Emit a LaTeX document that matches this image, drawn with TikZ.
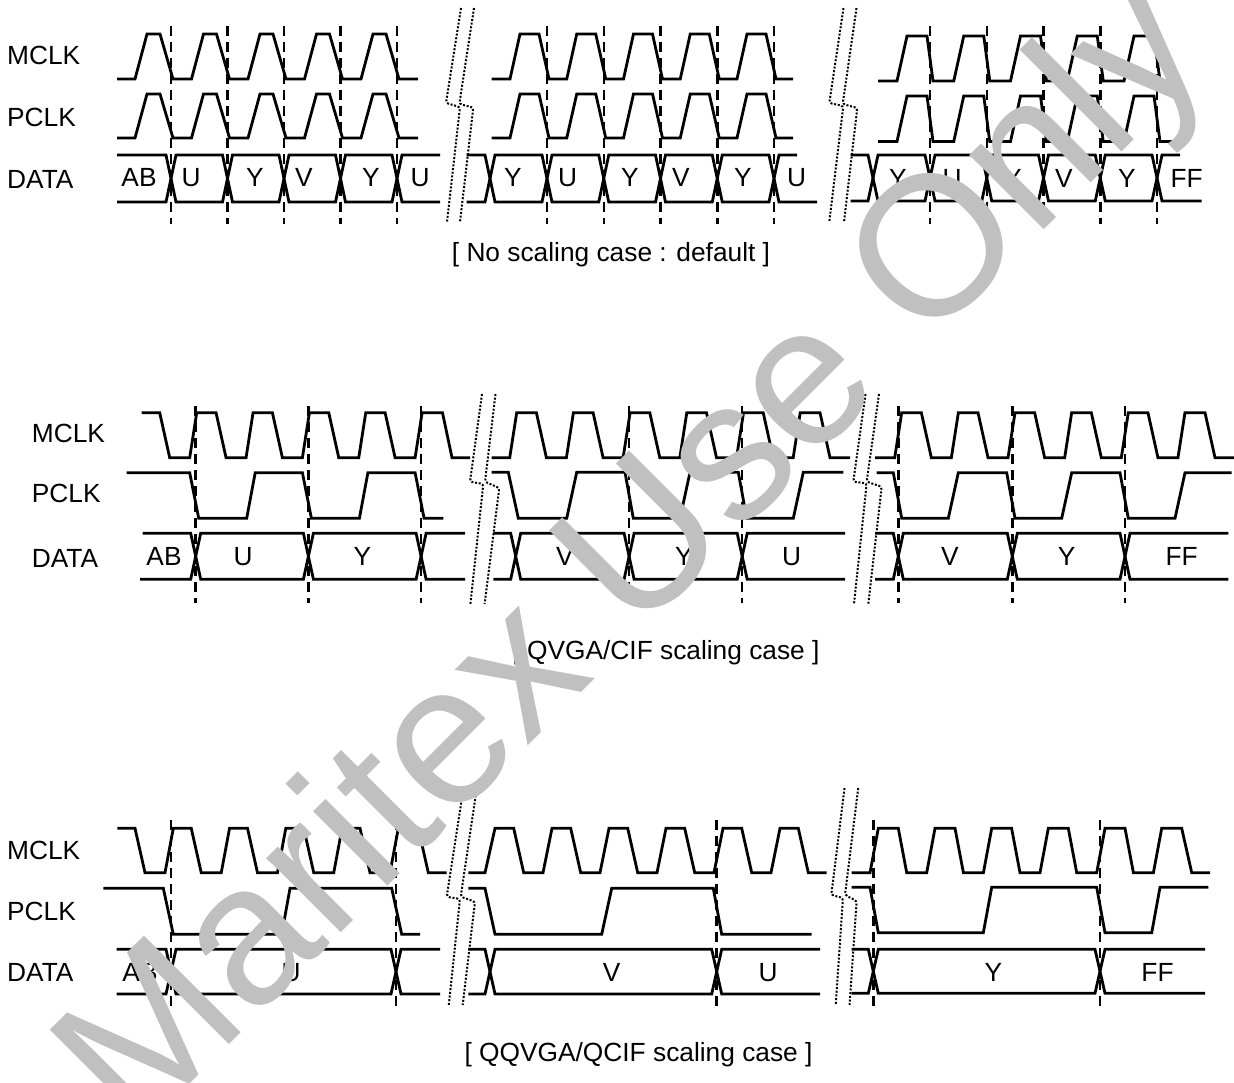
\documentclass[tikz,border=0pt]{standalone}
\usepackage{fontspec}
\setmainfont{Liberation Sans}
\newcommand\fsz{\fontsize{26.3}{30}\selectfont}
\newcommand\wmsz{\fontsize{199}{200}\selectfont}
\definecolor{wmgray}{RGB}{192,192,192}
\tikzset{
 sig/.style={line width=2.8pt},
 dsh/.style={line width=2.5pt, dash pattern=on 10pt off 6pt},
 brk/.style={line width=2pt, dash pattern=on 2pt off 1.7pt, rounded corners=2.5pt},
 lbl/.style={anchor=base west, inner sep=0pt, font=\fsz},
 val/.style={anchor=base, inner sep=0pt, font=\fsz},
 captxt/.style={anchor=base, inner sep=0pt, font=\fsz},
 wm/.style={anchor=base west, inner sep=0pt, font=\wmsz, text=wmgray, rotate=45}
}
% bus: topstart, topend, botstart, botend, T, B, transitions
\newcommand\dbus[7]{%
 \pgfmathsetmacro\busmid{(#5+#6)/2}%
 \draw[sig] (#1,#5) \foreach \tx in {#7} { -- (\tx-5,#5) -- (\tx,\busmid) -- (\tx+5,#5) } -- (#2,#5);
 \draw[sig] (#3,#6) \foreach \tx in {#7} { -- (\tx-5,#6) -- (\tx,\busmid) -- (\tx+5,#6) } -- (#4,#6);
}
\begin{document}
\begin{tikzpicture}[x=1pt,y=-1pt]
\useasboundingbox (0,0) rectangle (1234,1082);
\fill[white] (0,0) rectangle (1234,1082);

% ================= Section 1 =================
\node[lbl] (s1m) at (7,64) {MCLK};
\node[lbl] (s1p) at (7,126) {PCLK};
\node[lbl] (s1d) at (7,188.5) {DATA};

% MCLK
\draw[sig] (117,79) \foreach \dd in {171,227.5,284,340.5,397} { -- (\dd-36,79) -- (\dd-24,34) -- (\dd-11,34) -- (\dd+2,79) } -- (418,79);
\draw[sig] (491.7,79) \foreach \dd in {547,603.75,660.5,717.25,774} { -- (\dd-37,79) -- (\dd-27,34) -- (\dd-8,34) -- (\dd+2,79) } -- (793,79);
\draw[sig] (878,81) \foreach \dd in {930,986.75,1043.5,1100.25,1157} { -- (\dd-33,81) -- (\dd-23,36) -- (\dd-3,36) -- (\dd+3,81) } -- (1178,81);
% PCLK
\draw[sig] (117,138) \foreach \dd in {171,227.5,284,340.5,397} { -- (\dd-36,138) -- (\dd-24,94) -- (\dd-11,94) -- (\dd+2,138) } -- (418,138);
\draw[sig] (491.7,138) \foreach \dd in {547,603.75,660.5,717.25,774} { -- (\dd-37,138) -- (\dd-27,94) -- (\dd-8,94) -- (\dd+2,138) } -- (793,138);
\draw[sig] (878,141.5) \foreach \dd in {930,986.75,1043.5,1100.25,1157} { -- (\dd-33,141.5) -- (\dd-23,96) -- (\dd-3,96) -- (\dd+3,141.5) } -- (1178,141.5);
% DATA
\dbus{117}{440}{117}{440}{155}{202}{171,227.5,284,340.5,397}
\dbus{466.7}{797}{466.7}{817}{155}{202}{490,547,603.75,660.5,717.25,774}
\dbus{850.7}{1180}{850.7}{1201.7}{155}{201}{873,930,986.75,1043.5,1100.25,1157}
% values
\node[val] (a1) at (139,186.5) {AB};
\node[val] (a2) at (191,186.5) {U};
\node[val] (a3) at (255,186.5) {Y};
\node[val] (a4) at (304,186.5) {V};
\node[val] (a5) at (371,186.5) {Y};
\node[val] (a6) at (420,186.5) {U};
\node[val] (b1) at (513,186.5) {Y};
\node[val] (b2) at (567.5,186.5) {U};
\node[val] (b3) at (630,186.5) {Y};
\node[val] (b4) at (681,186.5) {V};
\node[val] (b5) at (743,186.5) {Y};
\node[val] (b6) at (796.7,186.5) {U};
\node[val] (c1) at (898,187) {Y};
\node[val] (c2) at (952,187) {U};
\node[val] (c3) at (1013,187) {Y};
\node[val] (c4) at (1064,187) {V};
\node[val] (c5) at (1127,187) {Y};
\node[val] (c6) at (1186.7,187) {FF};
% dashed
\foreach \dx in {171,227.5,284,340.5,397,547,603.75,660.5,717.25,774,930,986.75,1043.5,1100.25,1157}
  \draw[dsh] (\dx,26) -- (\dx,224);
% breaks
\draw[brk] (461,8) -- (446,103) -- (460,107) -- (447,222);
\draw[brk] (474,8) -- (459.3,104) -- (473.3,107.5) -- (460,222);
\draw[brk] (843.5,8) -- (829.3,103) -- (843.3,106) -- (829.3,222);
\draw[brk] (856.5,8) -- (842.7,104) -- (857.3,108) -- (844,222);
\node[captxt] (cap1) at (611,261) {[ No scaling case : default ]};

% ================= Section 2 =================
\node[lbl] (s2m) at (31.7,442.3) {MCLK};
\node[lbl] (s2p) at (31.7,502.7) {PCLK};
\node[lbl] (s2d) at (31.7,567.3) {DATA};

% MCLK
\draw[sig] (141.7,412.7) \foreach \rr in {196.7,253.05,309.4,365.75,422.1} { -- (\rr-37,412.7) -- (\rr-27,457.7) -- (\rr-7,457.7) -- (\rr,412.7) } -- (442.5,412.7) -- (452,457.7) -- (470,457.7);
\draw[sig] (491.7,457.7) -- (509.7,457.7) -- (516.7,412.7) \foreach \rr in {573.4,630.1,686.8,743.5,800.2} { -- (\rr-37,412.7) -- (\rr-27,457.7) -- (\rr-7,457.7) -- (\rr,412.7) } -- (820,412.7) -- (830,457.7) -- (850,457.7);
\draw[sig] (875,457.7) -- (894.7,457.7) -- (901.7,412.7) \foreach \rr in {958.35,1015,1071.65,1128.3,1184.95} { -- (\rr-37,412.7) -- (\rr-27,457.7) -- (\rr-7,457.7) -- (\rr,412.7) } -- (1205,412.7) -- (1215,457.7) -- (1234,457.7);
% PCLK
\draw[sig] (126.7,472.7) -- (189.7,472.7) -- (198.7,518.3) -- (246.7,518.3) -- (255.2,472.7) -- (302.4,472.7) -- (311.4,518.3) -- (359.4,518.3) -- (367.9,472.7) -- (415.1,472.7) -- (424.1,518.3) -- (443.3,518.3);
\draw[sig] (491.7,472.3) -- (508.3,472.3) -- (518.3,518.3) -- (566.7,518.3) -- (576.7,472.3) -- (625,472.3) -- (633.3,518.3) -- (680,518.3) -- (690,472.3) -- (738.3,472.3) -- (746.7,518.3) -- (793.3,518.3) -- (803.3,472.3) -- (843.3,472.3);
\draw[sig] (876.7,472.7) -- (893.3,472.7) -- (901.7,518.3) -- (948.3,518.3) -- (958.3,472.7) -- (1006.7,472.7) -- (1015,518.3) -- (1061.7,518.3) -- (1071.7,472.7) -- (1120,472.7) -- (1128.3,518.3) -- (1175,518.3) -- (1185,472.7) -- (1231.7,472.7);
% DATA
\dbus{142.7}{465}{140}{465}{533.3}{579.3}{195.7,308.4,421.1}
\dbus{493.3}{845}{493.3}{845}{533.3}{579.3}{515.7,629.1,742.2}
\dbus{875}{1228.3}{875}{1228.3}{533.3}{579.3}{898.3,1012.3,1125}
\node[val] (d1) at (164,565) {AB};
\node[val] (d2) at (243,565) {U};
\node[val] (d3) at (362.5,565) {Y};
\node[val] (e1) at (565,565) {V};
\node[val] (e2) at (684,565) {Y};
\node[val] (e3) at (791.7,565) {U};
\node[val] (f1) at (950,565) {V};
\node[val] (f2) at (1066.7,565) {Y};
\node[val] (f3) at (1181.7,565) {FF};
\foreach \dx in {195.7,308.4,421.1,629.1,742.2,898.3,1012.3,1125}
  \draw[dsh] (\dx,406) -- (\dx,603);
\draw[brk] (482,394) -- (470,481.7) -- (483.3,484) -- (470.4,604);
\draw[brk] (495.5,394) -- (485,481.7) -- (499.3,488) -- (484.6,604);
\draw[brk] (865.5,394) -- (853.3,481.7) -- (866.7,483.3) -- (854,604);
\draw[brk] (879,394) -- (866.7,481.7) -- (881.7,486.7) -- (868.3,604);
\node[captxt] (cap2) at (666,659) {[ QVGA/CIF scaling case ]};

% ================= Section 3 =================
\node[lbl] (s3m) at (7,859) {MCLK};
\node[lbl] (s3p) at (7,920) {PCLK};
\node[lbl] (s3d) at (7,981) {DATA};

% MCLK
\draw[sig] (117.3,828.3) \foreach \rr in {173.3,229.55,285.8,342.05,398.3} { -- (\rr-38.3,828.3) -- (\rr-28.3,872.7) -- (\rr-8.3,872.7) -- (\rr,828.3) } -- (418.3,828.3) -- (428.3,872.7) -- (446.7,872.7);
\draw[sig] (468.3,872.7) -- (485,872.7) -- (495,828.3) \foreach \rr in {552,609,666,723,780} { -- (\rr-38.3,828.3) -- (\rr-28.3,872.7) -- (\rr-9,872.7) -- (\rr,828.3) } -- (798.3,828.3) -- (808.3,872.7) -- (826.7,872.7);
\draw[sig] (851.7,872.7) -- (870,872.7) -- (878.3,828.3) \foreach \rr in {935,991.7,1048.3,1105,1161.7} { -- (\rr-36.7,828.3) -- (\rr-28.3,872.7) -- (\rr-8.3,872.7) -- (\rr,828.3) } -- (1181.7,828.3) -- (1191.7,872.7) -- (1210,872.7);
% PCLK
\draw[sig] (103.3,888.3) -- (163.3,888.3) -- (173.3,934.3) -- (281.7,934.3) -- (290,888.3) -- (391.7,888.3) -- (401.7,934.3) -- (420,934.3);
\draw[sig] (468.3,888.3) -- (485,888.3) -- (495,934.3) -- (601.7,934.3) -- (611.7,888.3) -- (713.3,888.3) -- (721.7,934.3) -- (811.7,934.3);
\draw[sig] (851.7,887.3) -- (870,887.3) -- (878.3,932.8) -- (983.3,932.8) -- (991.7,887.3) -- (1096.7,887.3) -- (1105,932.8) -- (1151.7,932.8) -- (1160,887.3) -- (1208.3,887.3);
% DATA
\dbus{116.7}{440}{116.7}{440}{949.3}{994}{171,396}
\dbus{468.3}{820}{468.3}{820}{949.3}{994}{490,716.7}
\dbus{851.7}{1205}{851.7}{1205}{949.3}{993.3}{873.3,1100}
\node[val] (g1) at (140,981) {AB};
\node[val] (g2) at (291,981) {U};
\node[val] (h1) at (611.7,981) {V};
\node[val] (h2) at (768,981) {U};
\node[val] (i1) at (993.3,981.5) {Y};
\node[val] (i2) at (1157.5,981.5) {FF};
\foreach \dx in {171,396,716.7,873.3,1100}
  \draw[dsh] (\dx,820) -- (\dx,1007);
\draw[brk] (463.5,788) -- (446.7,896.7) -- (460,899) -- (448.8,1005);
\draw[brk] (476.8,788) -- (460.7,896.7) -- (475,901.7) -- (462.7,1005);
\draw[brk] (844.5,788) -- (831.3,895) -- (843,898) -- (835.7,1005);
\draw[brk] (858.2,788) -- (845,895) -- (856.7,901) -- (849.5,1005);
\node[captxt] (cap3) at (638.5,1061) {[ QQVGA/QCIF scaling case ]};

% ================= Watermark =================
\node[wm] (wmk) at (135.6,1138.4) {Maritex Use Only};
\end{tikzpicture}
\end{document}
